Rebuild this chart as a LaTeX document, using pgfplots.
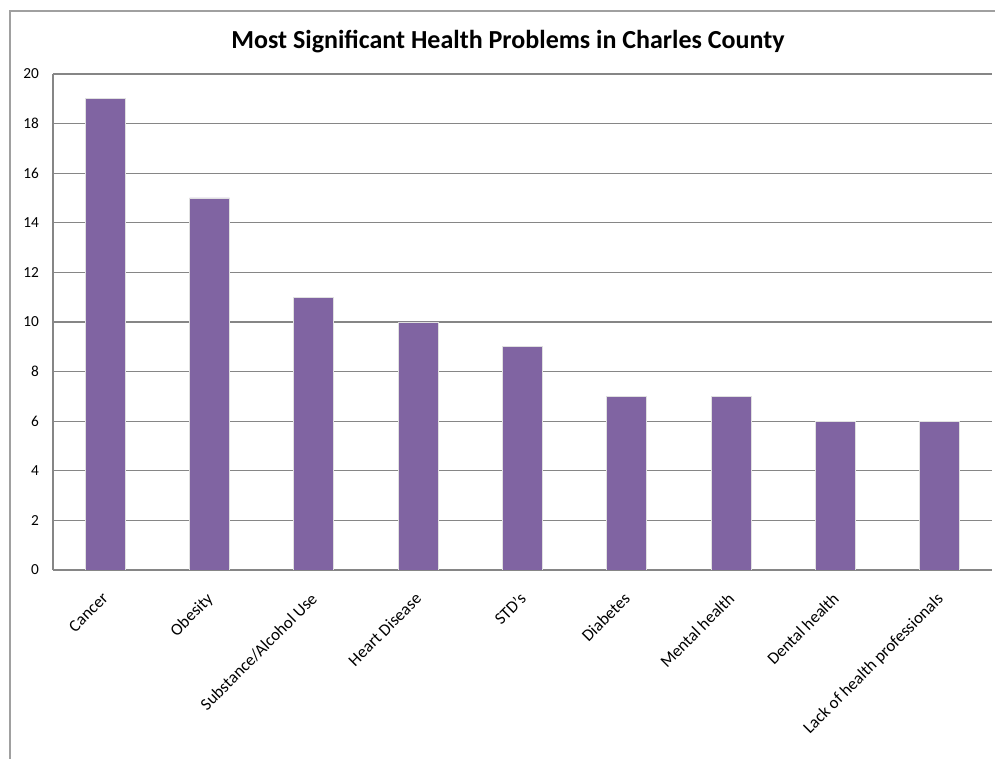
\documentclass[border=0pt]{standalone}
\usepackage{pgfplots}
\pgfplotsset{compat=1.18}
\usepackage{fontspec}
\setmainfont{Carlito}
\definecolor{barpurple}{RGB}{128,100,162}
\definecolor{gridgray}{RGB}{134,134,134}
\definecolor{framegray}{RGB}{160,160,160}
\begin{document}
\begin{tikzpicture}[x=0.75pt,y=0.75pt]
\useasboundingbox (0,0) rectangle (995,759);
\draw[framegray, line width=0.9pt] (10,0) -- (10,748) -- (995,748);
\node[font=\fontsize{19.5}{23}\selectfont\bfseries] at (508,717) {Most Significant Health Problems in Charles County};
\begin{axis}[
  at={(39.75pt,141.75pt)}, anchor=south west,
  scale only axis, width=704.25pt, height=372pt,
  ybar, bar width=30pt,
  xmin=-0.5, xmax=8.5, ymin=0, ymax=20,
  ytick={0,2,...,20},
  xtick={0,...,8},
  xticklabels={Cancer,Obesity,Substance/Alcohol Use,Heart Disease,STD's,Diabetes,Mental health,Dental health,Lack of health professionals},
  axis x line*=bottom, axis y line*=left,
  axis line style={gridgray, line width=0.8pt},
  major tick length=0pt,
  ymajorgrids, grid style={gridgray, line width=0.8pt},
  /pgf/number format/assume math mode=true,
  yticklabel style={font=\fontsize{11.5}{13}\selectfont, xshift=-7pt},
  xticklabel style={font=\fontsize{12.7}{14}\selectfont, yshift=-16pt, xshift=-3pt, rotate=45, anchor=north east, inner sep=0pt},
]
\addplot[fill=barpurple, draw=black!12, line width=0.6pt] coordinates {(0,19) (1,15) (2,11) (3,10) (4,9) (5,7) (6,7) (7,6) (8,6)};
\end{axis}
\end{tikzpicture}
\end{document}
